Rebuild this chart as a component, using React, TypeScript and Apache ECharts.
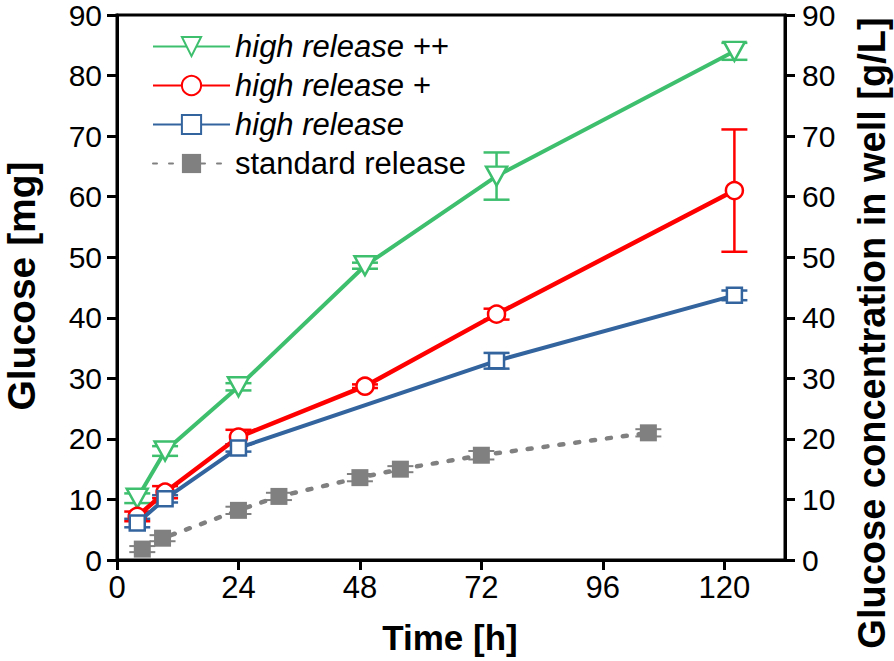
import React, { useEffect, useRef } from 'react';
import * as echarts from 'echarts';

const seriesNames = ['high release ++', 'high release +', 'high release', 'standard release'];
const xTickValues = [0, 24, 48, 72, 96, 120];

const hrPPTime = [4, 9.5, 24, 49, 75, 122];
const hrPPValue = [10.2, 18, 28.6, 48.6, 63.4, 84];
const hrPPErr = [0.8, 0.8, 0.6, 0.5, 3.9, 1.4];

const hrPTime = [4, 9.5, 24, 49, 75, 122];
const hrPValue = [7.2, 11.2, 20.3, 28.7, 40.6, 61];
const hrPErr = [0.8, 1.0, 1.2, 0.3, 0.9, 10.1];

const hrTime = [4, 9.5, 24, 75, 122];
const hrValue = [6.1, 10.1, 18.5, 32.9, 43.7];
const hrErr = [0.7, 0.6, 0.6, 1.3, 0.8];

const stdTime = [5, 9, 24, 32, 48, 56, 72, 105];
const stdValue = [1.8, 3.6, 8.2, 10.5, 13.6, 15.0, 17.3, 21.0];
const stdErr = [0.5, 0.5, 0.6, 0.6, 0.6, 0.5, 0.7, 0.6];

const GREEN = '#3dbf6e';
const RED = '#ff0000';
const BLUE = '#33649e';
const GRAY = '#808080';
const FONT = '"Liberation Sans", Arial, sans-serif';

function pairs(t: number[], v: number[]) {
  return t.map((x, i) => [x, v[i]]);
}
function triples(t: number[], v: number[], e: number[]) {
  return t.map((x, i) => [x, v[i], e[i]]);
}

function errorSeries(name: string, data: number[][], color: string, width: number, z: number) {
  return {
    type: 'custom',
    name,
    z,
    silent: true,
    data,
    encode: { x: 0, y: 1 },
    renderItem: (params: any, api: any) => {
      const x = api.value(0);
      const y = api.value(1);
      const e = api.value(2);
      const top = api.coord([x, y + e]);
      const bot = api.coord([x, y - e]);
      const hw = 13;
      const style = { stroke: color, lineWidth: width };
      return {
        type: 'group',
        children: [
          { type: 'line', shape: { x1: top[0], y1: top[1], x2: bot[0], y2: bot[1] }, style },
          { type: 'line', shape: { x1: top[0] - hw, y1: top[1], x2: top[0] + hw, y2: top[1] }, style },
          { type: 'line', shape: { x1: bot[0] - hw, y1: bot[1], x2: bot[0] + hw, y2: bot[1] }, style },
        ],
      };
    },
  };
}

export default function App() {
  const ref = useRef<HTMLDivElement>(null);
  useEffect(() => {
    if (!ref.current) return;
    const chart = echarts.init(ref.current, undefined, { renderer: 'svg' });
    const axisLine = { show: true, lineStyle: { color: '#000', width: 3 } };
    const axisTick = { show: true, length: 10, lineStyle: { color: '#000', width: 3 } };
    const yAxisBase = {
      type: 'value',
      min: 0,
      max: 90,
      interval: 10,
      axisLine,
      axisTick,
      splitLine: { show: false },
    };
    const legendText = { fontFamily: FONT, fontSize: 31, color: '#000' };
    chart.setOption({
      animation: false,
      backgroundColor: '#fff',
      grid: {
        left: 117,
        right: 109,
        top: 15,
        bottom: 101,
        show: true,
        borderColor: '#000',
        borderWidth: 3,
        backgroundColor: 'transparent',
      },
      legend: {
        left: 152,
        top: 31,
        padding: 0,
        orient: 'vertical',
        itemWidth: 77,
        itemHeight: 24,
        itemGap: 8,
        textStyle: legendText,
        data: [
          { name: seriesNames[0], textStyle: { ...legendText, fontStyle: 'italic' } },
          { name: seriesNames[1], textStyle: { ...legendText, fontStyle: 'italic' } },
          { name: seriesNames[2], textStyle: { ...legendText, fontStyle: 'italic' } },
          { name: seriesNames[3], textStyle: legendText },
        ],
      },
      xAxis: {
        type: 'value',
        min: 0,
        max: 132,
        interval: 24,
        axisLine,
        axisTick: { ...axisTick, customValues: xTickValues },
        axisLabel: {
          customValues: xTickValues,
          fontFamily: FONT,
          fontSize: 31,
          color: '#000',
          margin: 12,
        },
        splitLine: { show: false },
      },
      yAxis: [
        {
          ...yAxisBase,
          position: 'left',
          axisLabel: { fontFamily: FONT, fontSize: 30, color: '#000', margin: 15 },
        },
        {
          ...yAxisBase,
          position: 'right',
          axisLabel: { fontFamily: FONT, fontSize: 30, color: '#000', margin: 17 },
        },
      ],
      graphic: [
        {
          type: 'text',
          x: 450,
          y: 637,
          style: {
            text: 'Time [h]',
            font: `bold 35px ${FONT}`,
            fill: '#000',
            align: 'center',
            verticalAlign: 'middle',
          },
        },
        {
          type: 'text',
          x: 21,
          y: 286,
          rotation: Math.PI / 2,
          style: {
            text: 'Glucose [mg]',
            font: `bold 39px ${FONT}`,
            fill: '#000',
            align: 'center',
            verticalAlign: 'middle',
          },
        },
        {
          type: 'text',
          x: 872,
          y: 333,
          rotation: Math.PI / 2,
          style: {
            text: 'Glucose concentration in well [g/L]',
            font: `bold 38px ${FONT}`,
            fill: '#000',
            align: 'center',
            verticalAlign: 'middle',
          },
        },
      ],
      series: [
        errorSeries('err std', triples(stdTime, stdValue, stdErr), GRAY, 2, 1),
        errorSeries('err pp', triples(hrPPTime, hrPPValue, hrPPErr), GREEN, 2.5, 1),
        errorSeries('err p', triples(hrPTime, hrPValue, hrPErr), RED, 2.5, 1),
        errorSeries('err hr', triples(hrTime, hrValue, hrErr), BLUE, 2.5, 1),
        {
          type: 'line',
          name: seriesNames[3],
          z: 2,
          data: pairs(stdTime, stdValue),
          symbol: 'rect',
          symbolSize: 17,
          lineStyle: { color: GRAY, width: 4.5, type: [4, 12], cap: 'round' },
          itemStyle: { color: GRAY, borderWidth: 0 },
        },
        {
          type: 'line',
          name: seriesNames[0],
          z: 3,
          data: pairs(hrPPTime, hrPPValue),
          symbol: 'triangle',
          symbolRotate: 180,
          symbolSize: [21, 19],
          lineStyle: { color: GREEN, width: 4 },
          itemStyle: { color: '#fff', borderColor: GREEN, borderWidth: 2.5 },
        },
        {
          type: 'line',
          name: seriesNames[1],
          z: 4,
          data: pairs(hrPTime, hrPValue),
          symbol: 'circle',
          symbolSize: 17,
          lineStyle: { color: RED, width: 4.5 },
          itemStyle: { color: '#fff', borderColor: RED, borderWidth: 2.5 },
        },
        {
          type: 'line',
          name: seriesNames[2],
          z: 5,
          data: pairs(hrTime, hrValue),
          symbol: 'rect',
          symbolSize: 15,
          lineStyle: { color: BLUE, width: 4 },
          itemStyle: { color: '#fff', borderColor: BLUE, borderWidth: 2.5 },
        },
      ],
    });
    return () => chart.dispose();
  }, []);
  return (
    <div
      ref={ref}
      style={{ position: 'fixed', left: 0, top: 0, width: 894, height: 661, background: '#fff' }}
    />
  );
}
